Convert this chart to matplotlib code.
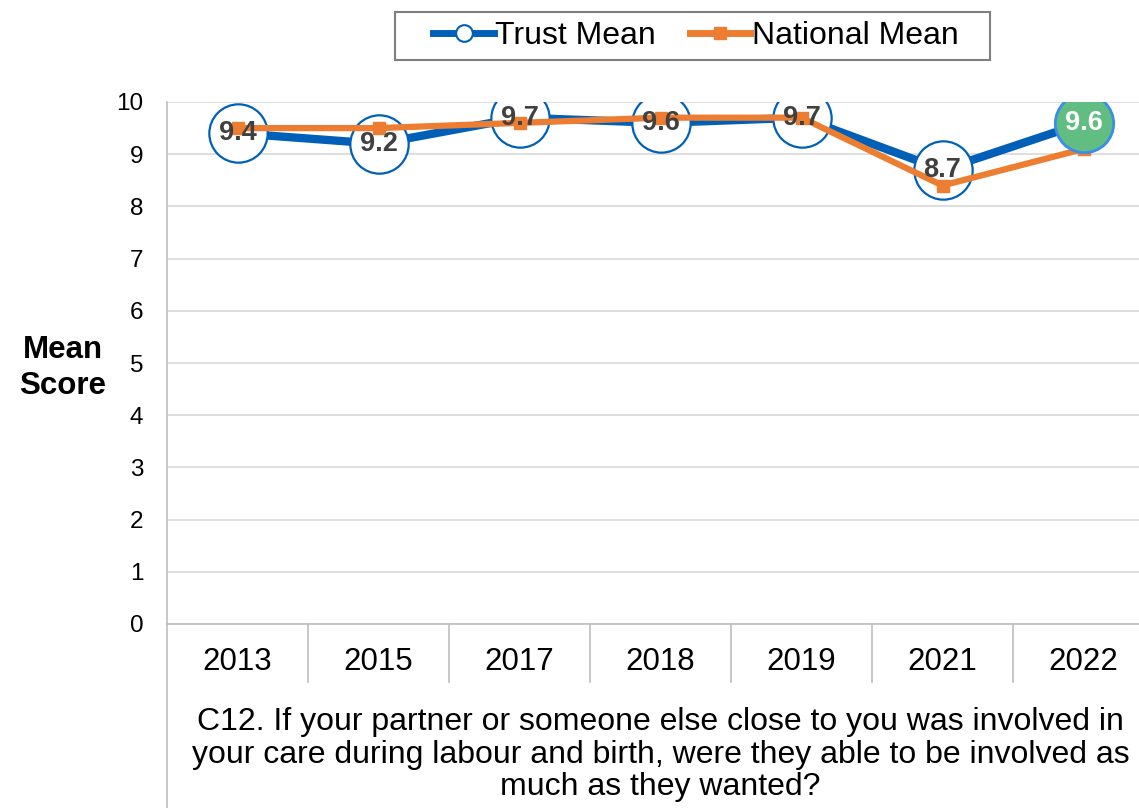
import matplotlib
matplotlib.use("Agg")
import matplotlib.pyplot as plt
import matplotlib.transforms as mtransforms
from matplotlib.lines import Line2D
from matplotlib.patches import Rectangle

years = ["2013", "2015", "2017", "2018", "2019", "2021", "2022"]
trust_mean = [9.4, 9.2, 9.7, 9.6, 9.7, 8.7, 9.6]
national_mean = [9.5, 9.5, 9.6, 9.7, 9.7, 8.4, 9.1]
y_ticks = [0, 1, 2, 3, 4, 5, 6, 7, 8, 9, 10]
question = ("C12. If your partner or someone else close to you was involved in\n"
            "your care during labour and birth, were they able to be involved as\n"
            "much as they wanted?")

BLUE = "#0060B8"
ORANGE = "#ED7D31"
GREEN = "#62BD82"
GRID = "#D9D9D9"
AXIS = "#BFBFBF"
LABEL = "#404040"

plt.rcParams["font.family"] = ["Liberation Sans", "DejaVu Sans"]

W, H = 1139, 808
fig = plt.figure(figsize=(W / 100, H / 100), dpi=100)
ax = fig.add_axes([167 / W, 184 / H, 987 / W, 522 / H])

x = list(range(len(years)))
ax.set_xlim(-0.5, len(years) - 0.5)
ax.set_ylim(0, 10)

# gridlines
for t in y_ticks:
    ax.axhline(t, color=GRID, lw=1.2, zorder=0)

# trust series
ax.plot(x, trust_mean, color=BLUE, lw=6, zorder=2, solid_capstyle="round")
ax.plot(x[:-1], trust_mean[:-1], ls="none", marker="o", ms=42,
        mfc="white", mec=BLUE, mew=1.6, zorder=3)
# national series
ax.plot(x, national_mean, color=ORANGE, lw=4.5, marker="s", ms=9,
        mfc=ORANGE, mec=ORANGE, zorder=4)
# highlighted latest point
ax.plot(x[-1:], trust_mean[-1:], ls="none", marker="o", ms=42,
        mfc=GREEN, mec="#3A8EEA", mew=2, zorder=5)

for i, v in enumerate(trust_mean):
    last = i == len(trust_mean) - 1
    ax.text(i, v, f"{v:.1f}", ha="center", va="center", fontsize=19.5,
            fontweight="bold", color="white" if last else LABEL, zorder=6)

# axes styling
for s in ["top", "right"]:
    ax.spines[s].set_visible(False)
ax.spines["left"].set_color(AXIS)
ax.spines["bottom"].set_color(AXIS)
ax.spines["left"].set_linewidth(1.2)
ax.spines["bottom"].set_linewidth(1.2)
ax.set_yticks(y_ticks)
ax.set_yticklabels([str(t) for t in y_ticks], fontsize=17.5)
ax.tick_params(axis="y", length=0, pad=17)
ax.set_xticks(x)
ax.set_xticklabels([])
ax.tick_params(axis="x", length=0)

trans = mtransforms.blended_transform_factory(ax.transData, ax.transAxes)
for i, yr in enumerate(years):
    ax.text(i, -0.0728, yr, transform=trans, ha="center", va="center",
            fontsize=22.5)

# category separators below the axis and extended left axis line
for i in range(1, len(years)):
    ax.plot([i - 0.5, i - 0.5], [0, -0.111], transform=trans, color=AXIS,
            lw=1.2, clip_on=False)
ax.plot([-0.5, -0.5], [0, -0.36], transform=trans, color=AXIS, lw=1.2,
        clip_on=False)

ax.text(3, -0.250, question, transform=trans, ha="center", va="center",
        fontsize=23, linespacing=1.13)

fig.text(63 / W, 1 - 368 / H, "Mean\nScore", ha="center", va="center",
         fontsize=22.5, fontweight="bold", linespacing=1.22)

# legend with a separately drawn frame
handles = [
    Line2D([], [], color=BLUE, lw=5, marker="o", ms=12, mfc="white",
           mec=BLUE, mew=1.5),
    Line2D([], [], color=ORANGE, lw=5, marker="s", ms=8, mfc=ORANGE,
           mec=ORANGE),
]
fig.legend(handles, ["Trust Mean", "National Mean"], loc="center",
           bbox_to_anchor=(696 / W, 1 - 36 / H), ncol=2,
           fontsize=23, frameon=False, handlelength=1.9,
           handletextpad=0.05, columnspacing=1.05, borderpad=0.2)
fig.patches.append(Rectangle((395 / W, 1 - 60 / H), 595 / W, 48 / H,
                             transform=fig.transFigure, fill=False,
                             edgecolor="#7F7F7F", lw=1.5))

fig.savefig("out.png", dpi=100)
